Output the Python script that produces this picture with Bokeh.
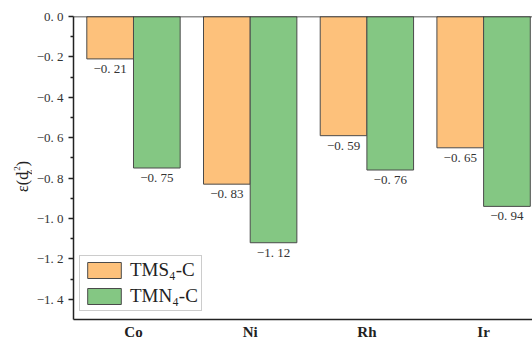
import math
from bokeh.plotting import figure
from bokeh.layouts import row
from bokeh.models import FixedTicker, Legend, LegendItem, Span, ColumnDataSource, Range1d
from bokeh.core.properties import value
from bokeh.embed import file_html
from bokeh.resources import INLINE

categories = ["Co", "Ni", "Rh", "Ir"]
tms4_c = [-0.21, -0.83, -0.59, -0.65]
tmn4_c = [-0.75, -1.12, -0.76, -0.94]
y_ticks = [0.0, -0.2, -0.4, -0.6, -0.8, -1.0, -1.2, -1.4]
series_names = ["TMS\u2084-C", "TMN\u2084-C"]
y_label_parts = ["\u03b5(d", "z", "2", ")"]

FONT = "Liberation Serif"
ORANGE = "#FDC17B"
GREEN = "#84C783"
EDGE = "#4a4a4a"
LABEL_W = 32

xs = [i + 1 for i in range(len(categories))]

def fmt(v, nd=2):
    s = f"{abs(v):.{nd}f}"
    a, b = s.split(".")
    return ("\u2212" if v < 0 else "") + a + ". " + b

src1 = ColumnDataSource(dict(x=[x - 0.2 for x in xs], top=[0] * 4, bottom=tms4_c,
                             lab=[fmt(v) for v in tms4_c]))
src2 = ColumnDataSource(dict(x=[x + 0.2 for x in xs], top=[0] * 4, bottom=tmn4_c,
                             lab=[fmt(v) for v in tmn4_c]))

p = figure(width=532 - LABEL_W, height=342, output_backend="svg", toolbar_location=None,
           x_range=Range1d(0.486, 4.419), y_range=Range1d(-1.5, 0.0),
           min_border_left=73 - LABEL_W, min_border_right=0, min_border_top=16, min_border_bottom=22)
p.outline_line_color = None
p.grid.visible = False
p.background_fill_color = "white"

r1 = p.vbar(x="x", top="top", bottom="bottom", width=0.4, source=src1,
            fill_color=ORANGE, line_color=EDGE, line_width=1)
r2 = p.vbar(x="x", top="top", bottom="bottom", width=0.4, source=src2,
            fill_color=GREEN, line_color=EDGE, line_width=1)

for s in (src1, src2):
    p.text(x="x", y="bottom", text="lab", source=s, text_align="center", text_baseline="top",
           y_offset=2, text_font=value(FONT), text_font_size="13px", text_color="#333333")

p.add_layout(Span(location=0, dimension="width", line_color="#222222", line_width=1.5))

# axes
p.xaxis.ticker = FixedTicker(ticks=xs)
p.xaxis.major_label_overrides = {x: c for x, c in zip(xs, categories)}
p.xaxis.major_tick_line_color = None
p.xaxis.minor_tick_line_color = None
p.xaxis.major_tick_out = 0
p.xaxis.minor_tick_out = 0
p.xaxis.axis_line_color = "#222222"
p.xaxis.axis_line_width = 1.5
p.xaxis.major_label_text_font = FONT
p.xaxis.major_label_text_font_size = "15px"
p.xaxis.major_label_text_font_style = "bold"
p.xaxis.major_label_text_color = "#222222"
p.xaxis.major_label_standoff = 4

minor = [round(-0.1 - 0.2 * i, 2) for i in range(7)]
p.yaxis.ticker = FixedTicker(ticks=y_ticks, minor_ticks=minor)
p.yaxis.major_label_overrides = {t: fmt(t, 1) for t in y_ticks}
p.yaxis.axis_line_color = "#222222"
p.yaxis.axis_line_width = 1.5
p.yaxis.major_tick_line_color = "#222222"
p.yaxis.major_tick_line_width = 1.5
p.yaxis.minor_tick_line_color = "#222222"
p.yaxis.minor_tick_line_width = 1.5
p.yaxis.major_tick_in = 0
p.yaxis.major_tick_out = 5
p.yaxis.minor_tick_in = 0
p.yaxis.minor_tick_out = 3
p.yaxis.major_label_text_font = FONT
p.yaxis.major_label_text_font_size = "13px"
p.yaxis.major_label_text_color = "#333333"
p.yaxis.major_label_standoff = 5

legend = Legend(items=[LegendItem(label=series_names[0], renderers=[r1]),
                       LegendItem(label=series_names[1], renderers=[r2])],
                location=(6, 8), glyph_width=42, glyph_height=20, spacing=4,
                padding=3, margin=0, label_standoff=5,
                label_text_font=FONT, label_text_font_size="19px", label_text_color="#222222",
                border_line_color="#999999", border_line_width=1.5,
                background_fill_alpha=1)
p.add_layout(legend)

# narrow strip holding the y-axis title epsilon(d_{z^2})
H = 342
q = figure(width=LABEL_W, height=H, output_backend="svg", toolbar_location=None,
           x_range=Range1d(0, LABEL_W), y_range=Range1d(0, H),
           min_border=0, min_border_left=0, min_border_right=0, min_border_top=0, min_border_bottom=0)
q.axis.visible = False
q.grid.visible = False
q.outline_line_color = None
lab_src = ColumnDataSource(dict(t=y_label_parts, x=[22, 27, 16, 22],
                                y=[H - 198, H - 178.5, H - 174, H - 169],
                                fs=["16px", "11px", "9px", "16px"]))
q.text(x="x", y="y", text="t", source=lab_src, angle=math.pi / 2, text_align="left",
       text_baseline="middle", text_font=value(FONT), text_font_size="fs", text_color="#222222")

layout = row(q, p, spacing=0)
open("out.html", "w").write(file_html(layout, INLINE))
